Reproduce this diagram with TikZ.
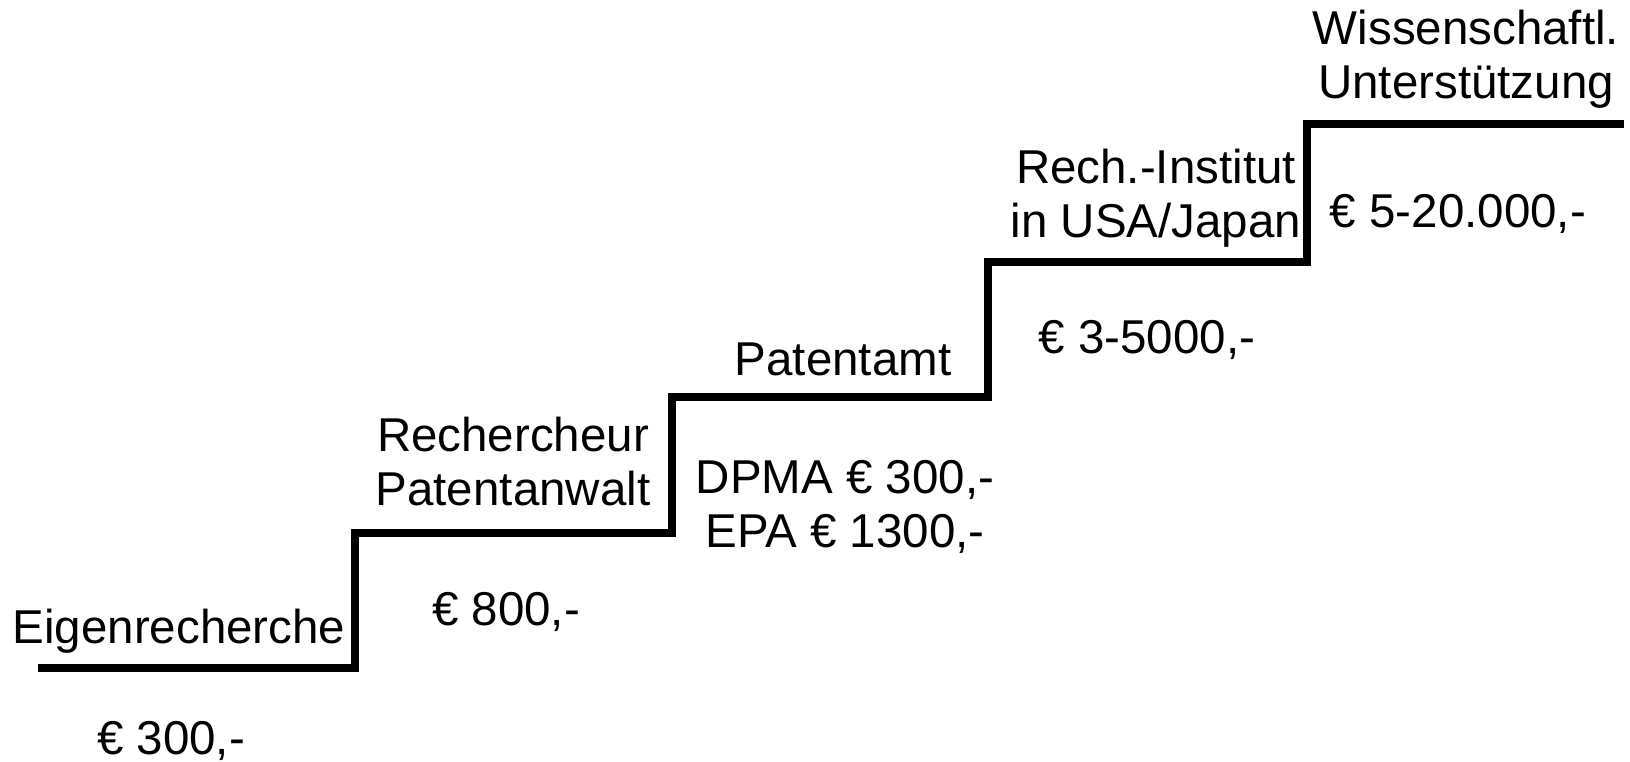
\documentclass[tikz,border=0pt]{standalone}
\usepackage{fontspec}
\setmainfont{Liberation Sans}
\usepackage{tikz}
\usetikzlibrary{positioning}

\tikzset{
  stair/.style={line width=8pt, black, line join=miter},
  steplabel/.style={anchor=base, inner sep=0pt, align=center,
    font=\fontsize{47.5}{54}\selectfont},
}

\begin{document}
\begin{tikzpicture}[x=1pt, y=-1pt]
  \useasboundingbox (0,0) rectangle (1630,761);
  % staircase
  \draw[stair] (38,668) -- (355,668) -- (355,533) -- (672,533) -- (672,397)
    -- (988,397) -- (988,262) -- (1307,262) -- (1307,124) -- (1624,124);
  % step names (base = last line)
  \node[steplabel] (eigen) at (179,643) {Eigenrecherche};
  \node[steplabel] (rech) at (513,505) {Rechercheur\\Patentanwalt};
  \node[steplabel] (amt) at (843,375) {Patentamt};
  \node[steplabel] (inst) at (1156,237) {Rech.-Institut\\in USA/Japan};
  \node[steplabel] (wiss) at (1466,98) {Wissenschaftl.\\Unterstützung};
  % costs
  \node[steplabel] (costeigen) at (171,754) {€ 300,-};
  \node[steplabel] (costrech) at (506,625) {€ 800,-};
  \node[steplabel] (costamt) at (845,547) {DPMA € 300,-\\EPA € 1300,-};
  \node[steplabel] (costinst) at (1147,353) {€ 3-5000,-};
  \node[steplabel] (costwiss) at (1458,227) {€ 5-20.000,-};
\end{tikzpicture}
\end{document}
